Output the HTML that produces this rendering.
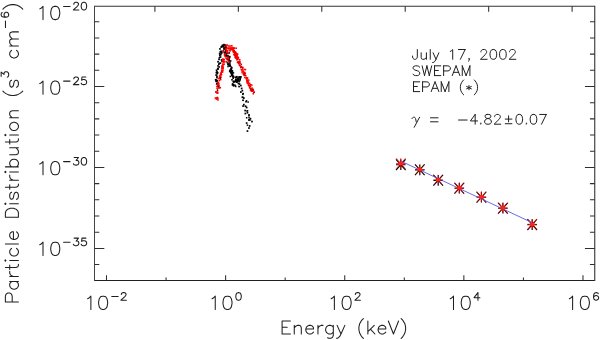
<!DOCTYPE html>
<html><head><meta charset="utf-8"><style>
html,body{margin:0;padding:0;background:#fff;}
svg{display:block;}
</style></head><body>
<svg width="600" height="340" viewBox="0 0 600 340">
<rect width="600" height="340" fill="#fff"/>
<path d="M94.5 6.25H594.75" stroke="#333" stroke-width="1.1" fill="none"/>
<path d="M94.5 280.55H594.75" stroke="#202020" stroke-width="1.1" fill="none"/>
<path d="M94.5 5.75V281.05" stroke="#444" stroke-width="1.0" fill="none"/>
<path d="M594.75 5.75V281.05" stroke="#333" stroke-width="1.1" fill="none"/>
<path d="M106.50 280.55v-5.4 M166.06 280.55v-3.1 M225.62 280.55v-5.4 M285.18 280.55v-3.1 M344.74 280.55v-5.4 M404.30 280.55v-3.1 M463.86 280.55v-5.4 M523.42 280.55v-3.1 M582.98 280.55v-5.4 M154.90 6.25v5.4 M238.34 6.25v5.4 M321.78 6.25v5.4 M405.22 6.25v5.4 M488.66 6.25v5.4 M572.10 6.25v5.4 M94.5 21.74h4.8 M594.75 21.74h-4.8 M94.5 37.93h4.8 M594.75 37.93h-4.8 M94.5 54.12h4.8 M594.75 54.12h-4.8 M94.5 70.31h4.8 M594.75 70.31h-4.8 M94.5 86.50h9.8 M594.75 86.50h-9.8 M94.5 102.69h4.8 M594.75 102.69h-4.8 M94.5 118.88h4.8 M594.75 118.88h-4.8 M94.5 135.07h4.8 M594.75 135.07h-4.8 M94.5 151.26h4.8 M594.75 151.26h-4.8 M94.5 167.45h9.8 M594.75 167.45h-9.8 M94.5 183.64h4.8 M594.75 183.64h-4.8 M94.5 199.83h4.8 M594.75 199.83h-4.8 M94.5 216.02h4.8 M594.75 216.02h-4.8 M94.5 232.21h4.8 M594.75 232.21h-4.8 M94.5 248.40h9.8 M594.75 248.40h-9.8 M94.5 264.59h4.8 M594.75 264.59h-4.8" stroke="#2e2e2e" stroke-width="1.05" fill="none"/>
<path d="M39.77 8.89L41.06 8.26L43.00 6.37L43.00 19.60M54.61 6.37L52.67 7.00L51.39 8.89L50.74 12.04L50.74 13.93L51.39 17.08L52.67 18.97L54.61 19.60L55.90 19.60L57.84 18.97L59.12 17.08L59.77 13.93L59.77 12.04L59.12 8.89L57.84 7.00L55.90 6.37L54.61 6.37M63.58 6.41L70.03 6.41M73.79 4.14L73.79 3.78L74.18 3.06L74.57 2.70L75.35 2.34L76.91 2.34L77.69 2.70L78.08 3.06L78.47 3.78L78.47 4.50L78.08 5.22L77.30 6.30L73.40 9.90L78.86 9.90M83.54 2.34L82.37 2.70L81.59 3.78L81.20 5.58L81.20 6.66L81.59 8.46L82.37 9.54L83.54 9.90L84.32 9.90L85.49 9.54L86.27 8.46L86.66 6.66L86.66 5.58L86.27 3.78L85.49 2.70L84.32 2.34L83.54 2.34M39.77 83.59L41.06 82.96L43.00 81.07L43.00 94.30M54.61 81.07L52.67 81.70L51.39 83.59L50.74 86.74L50.74 88.63L51.39 91.78L52.67 93.67L54.61 94.30L55.90 94.30L57.84 93.67L59.12 91.78L59.77 88.63L59.77 86.74L59.12 83.59L57.84 81.70L55.90 81.07L54.61 81.07M63.58 81.11L70.03 81.11M73.79 78.84L73.79 78.48L74.18 77.76L74.57 77.40L75.35 77.04L76.91 77.04L77.69 77.40L78.08 77.76L78.47 78.48L78.47 79.20L78.08 79.92L77.30 81.00L73.40 84.60L78.86 84.60M85.88 77.04L81.98 77.04L81.59 80.28L81.98 79.92L83.15 79.56L84.32 79.56L85.49 79.92L86.27 80.64L86.66 81.72L86.66 82.44L86.27 83.52L85.49 84.24L84.32 84.60L83.15 84.60L81.98 84.24L81.59 83.88L81.20 83.16M39.77 164.09L41.06 163.46L43.00 161.57L43.00 174.80M54.61 161.57L52.67 162.20L51.39 164.09L50.74 167.24L50.74 169.13L51.39 172.28L52.67 174.17L54.61 174.80L55.90 174.80L57.84 174.17L59.12 172.28L59.77 169.13L59.77 167.24L59.12 164.09L57.84 162.20L55.90 161.57L54.61 161.57M63.58 161.61L70.03 161.61M74.18 157.54L78.47 157.54L76.13 160.42L77.30 160.42L78.08 160.78L78.47 161.14L78.86 162.22L78.86 162.94L78.47 164.02L77.69 164.74L76.52 165.10L75.35 165.10L74.18 164.74L73.79 164.38L73.40 163.66M83.54 157.54L82.37 157.90L81.59 158.98L81.20 160.78L81.20 161.86L81.59 163.66L82.37 164.74L83.54 165.10L84.32 165.10L85.49 164.74L86.27 163.66L86.66 161.86L86.66 160.78L86.27 158.98L85.49 157.90L84.32 157.54L83.54 157.54M39.77 244.69L41.06 244.06L43.00 242.17L43.00 255.40M54.61 242.17L52.67 242.80L51.39 244.69L50.74 247.84L50.74 249.73L51.39 252.88L52.67 254.77L54.61 255.40L55.90 255.40L57.84 254.77L59.12 252.88L59.77 249.73L59.77 247.84L59.12 244.69L57.84 242.80L55.90 242.17L54.61 242.17M63.58 242.21L70.03 242.21M74.18 238.14L78.47 238.14L76.13 241.02L77.30 241.02L78.08 241.38L78.47 241.74L78.86 242.82L78.86 243.54L78.47 244.62L77.69 245.34L76.52 245.70L75.35 245.70L74.18 245.34L73.79 244.98L73.40 244.26M85.88 238.14L81.98 238.14L81.59 241.38L81.98 241.02L83.15 240.66L84.32 240.66L85.49 241.02L86.27 241.74L86.66 242.82L86.66 243.54L86.27 244.62L85.49 245.34L84.32 245.70L83.15 245.70L81.98 245.34L81.59 244.98L81.20 244.26M87.65 298.69L88.94 298.06L90.88 296.17L90.88 309.40M102.48 296.17L100.55 296.80L99.26 298.69L98.62 301.84L98.62 303.73L99.26 306.88L100.55 308.77L102.48 309.40L103.78 309.40L105.71 308.77L107.00 306.88L107.65 303.73L107.65 301.84L107.00 298.69L105.71 296.80L103.78 296.17L102.48 296.17M111.73 296.46L118.18 296.46M121.34 294.44L121.34 294.08L121.73 293.36L122.12 293.00L122.90 292.64L124.46 292.64L125.24 293.00L125.63 293.36L126.02 294.08L126.02 294.80L125.63 295.52L124.85 296.60L120.95 300.20L126.41 300.20M212.02 298.69L213.31 298.06L215.25 296.17L215.25 309.40M226.86 296.17L224.92 296.80L223.63 298.69L222.99 301.84L222.99 303.73L223.63 306.88L224.92 308.77L226.86 309.40L228.15 309.40L230.08 308.77L231.37 306.88L232.02 303.73L232.02 301.84L231.37 298.69L230.08 296.80L228.15 296.17L226.86 296.17M238.16 292.64L236.99 293.00L236.21 294.08L235.82 295.88L235.82 296.96L236.21 298.76L236.99 299.84L238.16 300.20L238.94 300.20L240.11 299.84L240.89 298.76L241.28 296.96L241.28 295.88L240.89 294.08L240.11 293.00L238.94 292.64L238.16 292.64M331.14 298.69L332.43 298.06L334.37 296.17L334.37 309.40M345.97 296.17L344.04 296.80L342.75 298.69L342.10 301.84L342.10 303.73L342.75 306.88L344.04 308.77L345.97 309.40L347.26 309.40L349.20 308.77L350.49 306.88L351.13 303.73L351.13 301.84L350.49 298.69L349.20 296.80L347.26 296.17L345.97 296.17M355.33 294.44L355.33 294.08L355.72 293.36L356.11 293.00L356.89 292.64L358.45 292.64L359.23 293.00L359.62 293.36L360.01 294.08L360.01 294.80L359.62 295.52L358.84 296.60L354.94 300.20L360.40 300.20M450.26 298.69L451.55 298.06L453.49 296.17L453.49 309.40M465.09 296.17L463.16 296.80L461.87 298.69L461.22 301.84L461.22 303.73L461.87 306.88L463.16 308.77L465.09 309.40L466.38 309.40L468.32 308.77L469.61 306.88L470.25 303.73L470.25 301.84L469.61 298.69L468.32 296.80L466.38 296.17L465.09 296.17M477.96 292.64L474.06 297.68L479.91 297.68M477.96 292.64L477.96 300.20M569.38 298.69L570.67 298.06L572.61 296.17L572.61 309.40M584.22 296.17L582.28 296.80L580.99 298.69L580.35 301.84L580.35 303.73L580.99 306.88L582.28 308.77L584.22 309.40L585.50 309.40L587.44 308.77L588.73 306.88L589.38 303.73L589.38 301.84L588.73 298.69L587.44 296.80L585.50 296.17L584.22 296.17M598.25 293.72L597.86 293.00L596.69 292.64L595.91 292.64L594.74 293.00L593.96 294.08L593.57 295.88L593.57 297.68L593.96 299.12L594.74 299.84L595.91 300.20L596.30 300.20L597.47 299.84L598.25 299.12L598.64 298.04L598.64 297.68L598.25 296.60L597.47 295.88L596.30 295.52L595.91 295.52L594.74 295.88L593.96 296.60L593.57 297.68M282.10 321.02L282.10 334.00M282.10 321.02L290.42 321.02M282.10 327.20L287.22 327.20M282.10 334.00L290.42 334.00M294.26 325.35L294.26 334.00M294.26 327.82L296.18 325.97L297.46 325.35L299.38 325.35L300.66 325.97L301.30 327.82L301.30 334.00M305.78 329.06L313.46 329.06L313.46 327.82L312.82 326.58L312.18 325.97L310.90 325.35L308.98 325.35L307.70 325.97L306.42 327.20L305.78 329.06L305.78 330.29L306.42 332.15L307.70 333.38L308.98 334.00L310.90 334.00L312.18 333.38L313.46 332.15M317.94 325.35L317.94 334.00M317.94 329.06L318.58 327.20L319.86 325.97L321.14 325.35L323.06 325.35M333.30 325.35L333.30 335.24L332.66 337.09L332.02 337.71L330.74 338.33L328.82 338.33L327.54 337.71M333.30 327.20L332.02 325.97L330.74 325.35L328.82 325.35L327.54 325.97L326.26 327.20L325.62 329.06L325.62 330.29L326.26 332.15L327.54 333.38L328.82 334.00L330.74 334.00L332.02 333.38L333.30 332.15M337.14 325.35L340.98 334.00M344.82 325.35L340.98 334.00L339.70 336.47L338.42 337.71L337.14 338.33L336.50 338.33M363.38 318.55L362.10 319.79L360.82 321.64L359.54 324.11L358.90 327.20L358.90 329.67L359.54 332.76L360.82 335.24L362.10 337.09L363.38 338.33M367.86 321.02L367.86 334.00M374.26 325.35L367.86 331.53M370.42 329.06L374.90 334.00M378.10 329.06L385.78 329.06L385.78 327.82L385.14 326.58L384.50 325.97L383.22 325.35L381.30 325.35L380.02 325.97L378.74 327.20L378.10 329.06L378.10 330.29L378.74 332.15L380.02 333.38L381.30 334.00L383.22 334.00L384.50 333.38L385.78 332.15M388.34 321.02L393.46 334.00M398.58 321.02L393.46 334.00M401.14 318.55L402.42 319.79L403.70 321.64L404.98 324.11L405.62 327.20L405.62 329.67L404.98 332.76L403.70 335.24L402.42 337.09L401.14 338.33" fill="none" stroke="#1e1e1e" stroke-width="1.05" stroke-linecap="round" stroke-linejoin="round" />
<g transform="rotate(-90)"><path d="M-301.90 5.38L-301.90 18.40M-301.90 5.38L-296.17 5.38L-294.26 6.00L-293.62 6.62L-292.98 7.86L-292.98 9.72L-293.62 10.96L-294.26 11.58L-296.17 12.20L-301.90 12.20M-281.52 9.72L-281.52 18.40M-281.52 11.58L-282.79 10.34L-284.06 9.72L-285.97 9.72L-287.25 10.34L-288.52 11.58L-289.16 13.44L-289.16 14.68L-288.52 16.54L-287.25 17.78L-285.97 18.40L-284.06 18.40L-282.79 17.78L-281.52 16.54M-276.42 9.72L-276.42 18.40M-276.42 13.44L-275.78 11.58L-274.51 10.34L-273.23 9.72L-271.32 9.72M-267.50 5.38L-267.50 15.92L-266.87 17.78L-265.59 18.40L-264.32 18.40M-269.41 9.72L-264.95 9.72M-261.13 5.38L-260.50 6.00L-259.86 5.38L-260.50 4.76L-261.13 5.38M-260.50 9.72L-260.50 18.40M-248.39 11.58L-249.67 10.34L-250.94 9.72L-252.85 9.72L-254.12 10.34L-255.40 11.58L-256.04 13.44L-256.04 14.68L-255.40 16.54L-254.12 17.78L-252.85 18.40L-250.94 18.40L-249.67 17.78L-248.39 16.54M-243.93 5.38L-243.93 18.40M-239.47 13.44L-231.83 13.44L-231.83 12.20L-232.47 10.96L-233.10 10.34L-234.38 9.72L-236.29 9.72L-237.56 10.34L-238.84 11.58L-239.47 13.44L-239.47 14.68L-238.84 16.54L-237.56 17.78L-236.29 18.40L-234.38 18.40L-233.10 17.78L-231.83 16.54M-217.18 5.38L-217.18 18.40M-217.18 5.38L-212.72 5.38L-210.81 6.00L-209.53 7.24L-208.90 8.48L-208.26 10.34L-208.26 13.44L-208.90 15.30L-209.53 16.54L-210.81 17.78L-212.72 18.40L-217.18 18.40M-204.44 5.38L-203.80 6.00L-203.16 5.38L-203.80 4.76L-204.44 5.38M-203.80 9.72L-203.80 18.40M-192.34 11.58L-192.97 10.34L-194.88 9.72L-196.79 9.72L-198.71 10.34L-199.34 11.58L-198.71 12.82L-197.43 13.44L-194.25 14.06L-192.97 14.68L-192.34 15.92L-192.34 16.54L-192.97 17.78L-194.88 18.40L-196.79 18.40L-198.71 17.78L-199.34 16.54M-187.24 5.38L-187.24 15.92L-186.60 17.78L-185.33 18.40L-184.05 18.40M-189.15 9.72L-184.69 9.72M-180.23 9.72L-180.23 18.40M-180.23 13.44L-179.60 11.58L-178.32 10.34L-177.05 9.72L-175.14 9.72M-172.59 5.38L-171.95 6.00L-171.31 5.38L-171.95 4.76L-172.59 5.38M-171.95 9.72L-171.95 18.40M-166.86 5.38L-166.86 18.40M-166.86 11.58L-165.58 10.34L-164.31 9.72L-162.40 9.72L-161.12 10.34L-159.85 11.58L-159.21 13.44L-159.21 14.68L-159.85 16.54L-161.12 17.78L-162.40 18.40L-164.31 18.40L-165.58 17.78L-166.86 16.54M-154.75 9.72L-154.75 15.92L-154.12 17.78L-152.84 18.40L-150.93 18.40L-149.66 17.78L-147.75 15.92M-147.75 9.72L-147.75 18.40M-142.01 5.38L-142.01 15.92L-141.38 17.78L-140.10 18.40L-138.83 18.40M-143.92 9.72L-139.46 9.72M-135.64 5.38L-135.01 6.00L-134.37 5.38L-135.01 4.76L-135.64 5.38M-135.01 9.72L-135.01 18.40M-127.36 9.72L-128.64 10.34L-129.91 11.58L-130.55 13.44L-130.55 14.68L-129.91 16.54L-128.64 17.78L-127.36 18.40L-125.45 18.40L-124.18 17.78L-122.90 16.54L-122.27 14.68L-122.27 13.44L-122.90 11.58L-124.18 10.34L-125.45 9.72L-127.36 9.72M-117.81 9.72L-117.81 18.40M-117.81 12.20L-115.90 10.34L-114.62 9.72L-112.71 9.72L-111.44 10.34L-110.80 12.20L-110.80 18.40M-91.05 2.90L-92.33 4.14L-93.60 6.00L-94.87 8.48L-95.51 11.58L-95.51 14.06L-94.87 17.16L-93.60 19.64L-92.33 21.50L-91.05 22.74M-80.22 11.58L-80.86 10.34L-82.77 9.72L-84.68 9.72L-86.59 10.34L-87.23 11.58L-86.59 12.82L-85.32 13.44L-82.13 14.06L-80.86 14.68L-80.22 15.92L-80.22 16.54L-80.86 17.78L-82.77 18.40L-84.68 18.40L-86.59 17.78L-87.23 16.54M-76.36 1.14L-72.07 1.14L-74.41 4.02L-73.24 4.02L-72.46 4.38L-72.07 4.74L-71.68 5.82L-71.68 6.54L-72.07 7.62L-72.85 8.34L-74.02 8.70L-75.19 8.70L-76.36 8.34L-76.75 7.98L-77.14 7.26M-50.37 11.58L-51.64 10.34L-52.91 9.72L-54.82 9.72L-56.10 10.34L-57.37 11.58L-58.01 13.44L-58.01 14.68L-57.37 16.54L-56.10 17.78L-54.82 18.40L-52.91 18.40L-51.64 17.78L-50.37 16.54M-45.91 9.72L-45.91 18.40M-45.91 12.20L-44.00 10.34L-42.72 9.72L-40.81 9.72L-39.54 10.34L-38.90 12.20L-38.90 18.40M-38.90 12.20L-36.99 10.34L-35.71 9.72L-33.80 9.72L-32.53 10.34L-31.89 12.20L-31.89 18.40M-27.51 5.46L-21.05 5.46M-12.56 2.22L-12.95 1.50L-14.12 1.14L-14.90 1.14L-16.07 1.50L-16.85 2.58L-17.24 4.38L-17.24 6.18L-16.85 7.62L-16.07 8.34L-14.90 8.70L-14.51 8.70L-13.34 8.34L-12.56 7.62L-12.17 6.54L-12.17 6.18L-12.56 5.10L-13.34 4.38L-14.51 4.02L-14.90 4.02L-16.07 4.38L-16.85 5.10L-17.24 6.18M-9.09 2.90L-7.82 4.14L-6.55 6.00L-5.27 8.48L-4.63 11.58L-4.63 14.06L-5.27 17.16L-6.55 19.64L-7.82 21.50L-9.09 22.74" fill="none" stroke="#1e1e1e" stroke-width="1.05" stroke-linecap="round" stroke-linejoin="round" /></g>
<path d="M417.34 49.53L417.34 56.97L416.86 58.37L416.38 58.83L415.42 59.30L414.47 59.30L413.51 58.83L413.03 58.37L412.56 56.97L412.56 56.04M421.16 52.79L421.16 57.44L421.64 58.83L422.59 59.30L424.03 59.30L424.98 58.83L426.42 57.44M426.42 52.79L426.42 59.30M430.24 49.53L430.24 59.30M433.11 52.79L435.98 59.30M438.85 52.79L435.98 59.30L435.02 61.16L434.07 62.09L433.11 62.55L432.63 62.55M450.32 51.39L451.27 50.93L452.71 49.53L452.71 59.30M465.14 49.53L460.36 59.30M458.44 49.53L465.14 49.53M469.44 58.83L468.96 59.30L468.48 58.83L468.96 58.37L469.44 58.83L469.44 59.77L468.96 60.70L468.48 61.16M480.91 51.86L480.91 51.39L481.39 50.46L481.87 50.00L482.82 49.53L484.73 49.53L485.69 50.00L486.17 50.46L486.65 51.39L486.65 52.32L486.17 53.25L485.21 54.65L480.43 59.30L487.12 59.30M492.86 49.53L491.43 50.00L490.47 51.39L489.99 53.72L489.99 55.11L490.47 57.44L491.43 58.83L492.86 59.30L493.82 59.30L495.25 58.83L496.21 57.44L496.68 55.11L496.68 53.72L496.21 51.39L495.25 50.00L493.82 49.53L492.86 49.53M502.42 49.53L500.99 50.00L500.03 51.39L499.55 53.72L499.55 55.11L500.03 57.44L500.99 58.83L502.42 59.30L503.38 59.30L504.81 58.83L505.77 57.44L506.24 55.11L506.24 53.72L505.77 51.39L504.81 50.00L503.38 49.53L502.42 49.53M509.59 51.86L509.59 51.39L510.07 50.46L510.55 50.00L511.50 49.53L513.41 49.53L514.37 50.00L514.85 50.46L515.33 51.39L515.33 52.32L514.85 53.25L513.89 54.65L509.11 59.30L515.80 59.30M419.73 67.23L418.77 66.30L417.34 65.83L415.42 65.83L413.99 66.30L413.03 67.23L413.03 68.16L413.51 69.09L413.99 69.55L414.95 70.02L417.81 70.95L418.77 71.41L419.25 71.88L419.73 72.81L419.73 74.20L418.77 75.13L417.34 75.60L415.42 75.60L413.99 75.13L413.03 74.20M422.12 65.83L424.51 75.60M426.90 65.83L424.51 75.60M426.90 65.83L429.29 75.60M431.68 65.83L429.29 75.60M434.54 65.83L434.54 75.60M434.54 65.83L440.76 65.83M434.54 70.48L438.37 70.48M434.54 75.60L440.76 75.60M443.63 65.83L443.63 75.60M443.63 65.83L447.93 65.83L449.36 66.30L449.84 66.76L450.32 67.69L450.32 69.09L449.84 70.02L449.36 70.48L447.93 70.95L443.63 70.95M456.05 65.83L452.23 75.60M456.05 65.83L459.88 75.60M453.66 72.34L458.44 72.34M462.27 65.83L462.27 75.60M462.27 65.83L466.09 75.60M469.92 65.83L466.09 75.60M469.92 65.83L469.92 75.60M413.51 81.83L413.51 91.60M413.51 81.83L419.73 81.83M413.51 86.48L417.34 86.48M413.51 91.60L419.73 91.60M422.59 81.83L422.59 91.60M422.59 81.83L426.90 81.83L428.33 82.30L428.81 82.76L429.29 83.69L429.29 85.09L428.81 86.02L428.33 86.48L426.90 86.95L422.59 86.95M435.02 81.83L431.20 91.60M435.02 81.83L438.85 91.60M432.63 88.34L437.41 88.34M441.24 81.83L441.24 91.60M441.24 81.83L445.06 91.60M448.88 81.83L445.06 91.60M448.88 81.83L448.88 91.60M463.70 79.97L462.75 80.91L461.79 82.30L460.83 84.16L460.36 86.48L460.36 88.34L460.83 90.67L461.79 92.53L462.75 93.92L463.70 94.85M468.96 85.55L468.96 89.74M466.57 86.48L471.35 88.81M471.35 86.48L466.57 88.81M474.22 79.97L475.17 80.91L476.13 82.30L477.09 84.16L477.56 86.48L477.56 88.34L477.09 90.67L476.13 92.53L475.17 93.92L474.22 94.85M458.58 120.02L467.12 120.02M475.17 114.44L470.43 120.95L477.54 120.95M475.17 114.44L475.17 124.20M480.86 123.27L480.39 123.73L480.86 124.20L481.34 123.73L480.86 123.27M487.02 114.44L485.60 114.90L485.13 115.83L485.13 116.76L485.60 117.69L486.55 118.16L488.45 118.62L489.87 119.09L490.82 120.02L491.29 120.95L491.29 122.34L490.82 123.27L490.34 123.73L488.92 124.20L487.02 124.20L485.60 123.73L485.13 123.27L484.65 122.34L484.65 120.95L485.13 120.02L486.08 119.09L487.50 118.62L489.39 118.16L490.34 117.69L490.82 116.76L490.82 115.83L490.34 114.90L488.92 114.44L487.02 114.44M494.61 116.76L494.61 116.30L495.08 115.37L495.56 114.90L496.50 114.44L498.40 114.44L499.35 114.90L499.82 115.37L500.30 116.30L500.30 117.23L499.82 118.16L498.87 119.55L494.13 124.20L500.77 124.20M508.59 115.83L508.59 121.88M505.27 119.09L511.91 119.09M505.27 123.73L511.91 123.73M518.78 114.44L517.36 114.90L516.41 116.30L515.94 118.62L515.94 120.02L516.41 122.34L517.36 123.73L518.78 124.20L519.73 124.20L521.15 123.73L522.10 122.34L522.57 120.02L522.57 118.62L522.10 116.30L521.15 114.90L519.73 114.44L518.78 114.44M526.37 123.27L525.89 123.73L526.37 124.20L526.84 123.73L526.37 123.27M533.00 114.44L531.58 114.90L530.63 116.30L530.16 118.62L530.16 120.02L530.63 122.34L531.58 123.73L533.00 124.20L533.95 124.20L535.37 123.73L536.32 122.34L536.79 120.02L536.79 118.62L536.32 116.30L535.37 114.90L533.95 114.44L533.00 114.44M546.27 114.44L541.53 124.20M539.64 114.44L546.27 114.44M430.5 117.8L438 117.8M430.5 121.8L438 121.8M412.0 118.6C412.6 116.9 414.9 116.5 415.6 118.6L416.2 121.8M419.6 117.2L414.2 127.3" fill="none" stroke="#1e1e1e" stroke-width="1.0" stroke-linecap="round" stroke-linejoin="round" />
<rect x="223.1" y="43.8" width="1.7" height="1.7" fill="#000000"/>
<rect x="221.1" y="45.6" width="1.7" height="1.7" fill="#000000"/>
<rect x="220.3" y="46.2" width="1.7" height="1.7" fill="#000000"/>
<rect x="219.1" y="48.1" width="1.7" height="1.7" fill="#000000"/>
<rect x="220.2" y="50.4" width="1.7" height="1.7" fill="#000000"/>
<rect x="220.8" y="52.2" width="1.7" height="1.7" fill="#000000"/>
<rect x="219.0" y="54.8" width="1.7" height="1.7" fill="#000000"/>
<rect x="219.7" y="56.2" width="1.7" height="1.7" fill="#000000"/>
<rect x="218.2" y="58.5" width="1.7" height="1.7" fill="#000000"/>
<rect x="217.2" y="60.9" width="1.7" height="1.7" fill="#000000"/>
<rect x="218.0" y="63.4" width="1.7" height="1.7" fill="#000000"/>
<rect x="218.2" y="66.1" width="1.7" height="1.7" fill="#000000"/>
<rect x="217.0" y="68.2" width="1.7" height="1.7" fill="#000000"/>
<rect x="216.2" y="70.9" width="1.7" height="1.7" fill="#000000"/>
<rect x="215.3" y="74.2" width="1.7" height="1.7" fill="#000000"/>
<rect x="216.1" y="76.7" width="1.7" height="1.7" fill="#000000"/>
<rect x="214.8" y="78.9" width="1.7" height="1.7" fill="#000000"/>
<rect x="216.1" y="80.7" width="1.7" height="1.7" fill="#000000"/>
<rect x="216.6" y="82.6" width="1.7" height="1.7" fill="#000000"/>
<rect x="217.2" y="84.8" width="1.7" height="1.7" fill="#000000"/>
<rect x="226.7" y="62.1" width="1.6" height="1.6" fill="#000000"/>
<rect x="227.6" y="63.3" width="1.6" height="1.6" fill="#000000"/>
<rect x="223.7" y="52.1" width="1.6" height="1.6" fill="#000000"/>
<rect x="232.4" y="77.4" width="1.6" height="1.6" fill="#000000"/>
<rect x="224.1" y="47.3" width="1.6" height="1.6" fill="#000000"/>
<rect x="225.4" y="46.2" width="1.6" height="1.6" fill="#000000"/>
<rect x="230.2" y="70.9" width="1.6" height="1.6" fill="#000000"/>
<rect x="222.5" y="45.3" width="1.6" height="1.6" fill="#000000"/>
<rect x="225.1" y="52.6" width="1.6" height="1.6" fill="#000000"/>
<rect x="227.2" y="63.8" width="1.6" height="1.6" fill="#000000"/>
<rect x="228.8" y="64.8" width="1.6" height="1.6" fill="#000000"/>
<rect x="230.0" y="71.7" width="1.6" height="1.6" fill="#000000"/>
<rect x="234.9" y="85.6" width="1.6" height="1.6" fill="#000000"/>
<rect x="230.9" y="73.9" width="1.6" height="1.6" fill="#000000"/>
<rect x="228.5" y="56.7" width="1.6" height="1.6" fill="#000000"/>
<rect x="228.7" y="60.0" width="1.6" height="1.6" fill="#000000"/>
<rect x="232.9" y="83.9" width="1.6" height="1.6" fill="#000000"/>
<rect x="226.3" y="52.7" width="1.6" height="1.6" fill="#000000"/>
<rect x="232.8" y="85.1" width="1.6" height="1.6" fill="#000000"/>
<rect x="230.4" y="69.5" width="1.6" height="1.6" fill="#000000"/>
<rect x="222.5" y="50.1" width="1.6" height="1.6" fill="#000000"/>
<rect x="232.0" y="75.9" width="1.6" height="1.6" fill="#000000"/>
<rect x="225.2" y="49.4" width="1.6" height="1.6" fill="#000000"/>
<rect x="223.9" y="51.6" width="1.6" height="1.6" fill="#000000"/>
<rect x="225.0" y="52.0" width="1.6" height="1.6" fill="#000000"/>
<rect x="231.2" y="71.3" width="1.6" height="1.6" fill="#000000"/>
<rect x="225.2" y="55.4" width="1.6" height="1.6" fill="#000000"/>
<rect x="231.2" y="79.0" width="1.6" height="1.6" fill="#000000"/>
<rect x="224.1" y="54.2" width="1.6" height="1.6" fill="#000000"/>
<rect x="232.6" y="72.1" width="1.6" height="1.6" fill="#000000"/>
<rect x="225.4" y="54.7" width="1.6" height="1.6" fill="#000000"/>
<rect x="227.8" y="57.9" width="1.6" height="1.6" fill="#000000"/>
<rect x="223.1" y="48.1" width="1.6" height="1.6" fill="#000000"/>
<rect x="229.4" y="69.6" width="1.6" height="1.6" fill="#000000"/>
<rect x="231.7" y="84.1" width="1.6" height="1.6" fill="#000000"/>
<rect x="232.5" y="80.5" width="1.6" height="1.6" fill="#000000"/>
<rect x="232.8" y="81.3" width="1.6" height="1.6" fill="#000000"/>
<rect x="224.9" y="50.5" width="1.6" height="1.6" fill="#000000"/>
<rect x="227.0" y="52.2" width="1.6" height="1.6" fill="#000000"/>
<rect x="229.7" y="69.2" width="1.6" height="1.6" fill="#000000"/>
<rect x="223.7" y="46.2" width="1.6" height="1.6" fill="#000000"/>
<rect x="231.0" y="74.8" width="1.6" height="1.6" fill="#000000"/>
<rect x="229.9" y="69.3" width="1.6" height="1.6" fill="#000000"/>
<rect x="231.8" y="74.2" width="1.6" height="1.6" fill="#000000"/>
<rect x="230.5" y="66.3" width="1.6" height="1.6" fill="#000000"/>
<rect x="227.4" y="55.6" width="1.6" height="1.6" fill="#000000"/>
<rect x="222.8" y="46.2" width="1.6" height="1.6" fill="#000000"/>
<rect x="223.7" y="47.9" width="1.6" height="1.6" fill="#000000"/>
<rect x="230.4" y="68.3" width="1.6" height="1.6" fill="#000000"/>
<rect x="233.7" y="81.0" width="1.6" height="1.6" fill="#000000"/>
<rect x="230.5" y="72.5" width="1.6" height="1.6" fill="#000000"/>
<rect x="225.0" y="46.4" width="1.6" height="1.6" fill="#000000"/>
<rect x="231.2" y="73.1" width="1.6" height="1.6" fill="#000000"/>
<rect x="228.9" y="70.6" width="1.6" height="1.6" fill="#000000"/>
<rect x="228.1" y="57.2" width="1.6" height="1.6" fill="#000000"/>
<rect x="229.5" y="64.9" width="1.6" height="1.6" fill="#000000"/>
<rect x="230.9" y="73.3" width="1.6" height="1.6" fill="#000000"/>
<rect x="231.8" y="83.1" width="1.6" height="1.6" fill="#000000"/>
<rect x="233.1" y="80.9" width="1.6" height="1.6" fill="#000000"/>
<rect x="232.5" y="76.1" width="1.6" height="1.6" fill="#000000"/>
<rect x="229.4" y="70.7" width="1.6" height="1.6" fill="#000000"/>
<rect x="231.3" y="69.8" width="1.6" height="1.6" fill="#000000"/>
<rect x="234.2" y="84.5" width="1.6" height="1.6" fill="#000000"/>
<rect x="228.1" y="59.1" width="1.6" height="1.6" fill="#000000"/>
<rect x="228.7" y="62.0" width="1.6" height="1.6" fill="#000000"/>
<rect x="232.6" y="75.4" width="1.6" height="1.6" fill="#000000"/>
<rect x="229.2" y="65.2" width="1.6" height="1.6" fill="#000000"/>
<rect x="227.7" y="63.4" width="1.6" height="1.6" fill="#000000"/>
<rect x="227.1" y="55.0" width="1.6" height="1.6" fill="#000000"/>
<rect x="231.0" y="72.6" width="1.6" height="1.6" fill="#000000"/>
<rect x="215.3" y="79.2" width="1.6" height="1.6" fill="#000000"/>
<rect x="215.2" y="80.5" width="1.6" height="1.6" fill="#000000"/>
<rect x="218.8" y="52.8" width="1.6" height="1.6" fill="#000000"/>
<rect x="216.4" y="79.8" width="1.6" height="1.6" fill="#000000"/>
<rect x="216.9" y="67.6" width="1.6" height="1.6" fill="#000000"/>
<rect x="218.6" y="62.5" width="1.6" height="1.6" fill="#000000"/>
<rect x="216.8" y="72.0" width="1.6" height="1.6" fill="#000000"/>
<rect x="219.4" y="51.2" width="1.6" height="1.6" fill="#000000"/>
<rect x="219.2" y="53.3" width="1.6" height="1.6" fill="#000000"/>
<rect x="217.2" y="65.1" width="1.6" height="1.6" fill="#000000"/>
<rect x="215.9" y="83.1" width="1.6" height="1.6" fill="#000000"/>
<rect x="221.3" y="45.7" width="1.6" height="1.6" fill="#000000"/>
<rect x="215.5" y="71.8" width="1.6" height="1.6" fill="#000000"/>
<rect x="216.2" y="75.5" width="1.6" height="1.6" fill="#000000"/>
<rect x="219.6" y="62.4" width="1.6" height="1.6" fill="#000000"/>
<rect x="220.1" y="53.9" width="1.6" height="1.6" fill="#000000"/>
<rect x="215.7" y="69.4" width="1.6" height="1.6" fill="#000000"/>
<rect x="217.2" y="68.1" width="1.6" height="1.6" fill="#000000"/>
<rect x="216.6" y="72.0" width="1.6" height="1.6" fill="#000000"/>
<rect x="220.9" y="51.4" width="1.6" height="1.6" fill="#000000"/>
<rect x="216.4" y="72.9" width="1.6" height="1.6" fill="#000000"/>
<rect x="218.6" y="57.0" width="1.6" height="1.6" fill="#000000"/>
<rect x="221.7" y="44.4" width="1.7" height="1.7" fill="#000000"/>
<rect x="223.5" y="45.2" width="1.7" height="1.7" fill="#000000"/>
<rect x="224.2" y="44.2" width="1.7" height="1.7" fill="#000000"/>
<rect x="224.7" y="50.4" width="1.7" height="1.7" fill="#000000"/>
<rect x="225.2" y="53.2" width="1.7" height="1.7" fill="#000000"/>
<rect x="228.6" y="56.6" width="1.7" height="1.7" fill="#000000"/>
<rect x="229.7" y="60.1" width="1.7" height="1.7" fill="#000000"/>
<rect x="220.7" y="59.1" width="1.7" height="1.7" fill="#000000"/>
<rect x="221.2" y="60.6" width="1.7" height="1.7" fill="#000000"/>
<rect x="229.5" y="64.3" width="1.5" height="1.5" fill="#000000"/>
<rect x="230.9" y="70.4" width="1.5" height="1.5" fill="#000000"/>
<rect x="231.2" y="74.2" width="1.5" height="1.5" fill="#000000"/>
<rect x="226.6" y="59.0" width="1.5" height="1.5" fill="#000000"/>
<rect x="225.5" y="57.5" width="1.5" height="1.5" fill="#000000"/>
<rect x="231.8" y="70.4" width="1.5" height="1.5" fill="#000000"/>
<rect x="230.2" y="68.0" width="1.5" height="1.5" fill="#000000"/>
<rect x="229.5" y="70.1" width="1.5" height="1.5" fill="#000000"/>
<rect x="228.6" y="52.2" width="1.5" height="1.5" fill="#000000"/>
<rect x="229.6" y="75.7" width="1.5" height="1.5" fill="#000000"/>
<rect x="229.1" y="55.8" width="1.5" height="1.5" fill="#000000"/>
<rect x="228.5" y="58.1" width="1.5" height="1.5" fill="#000000"/>
<rect x="229.2" y="62.3" width="1.5" height="1.5" fill="#000000"/>
<rect x="224.2" y="48.2" width="1.5" height="1.5" fill="#000000"/>
<rect x="231.1" y="71.6" width="1.5" height="1.5" fill="#000000"/>
<rect x="230.9" y="70.9" width="1.5" height="1.5" fill="#000000"/>
<rect x="228.5" y="60.6" width="1.5" height="1.5" fill="#000000"/>
<rect x="231.2" y="67.2" width="1.5" height="1.5" fill="#000000"/>
<rect x="232.2" y="75.6" width="1.5" height="1.5" fill="#000000"/>
<rect x="228.4" y="64.3" width="1.5" height="1.5" fill="#000000"/>
<rect x="227.3" y="65.8" width="1.5" height="1.5" fill="#000000"/>
<rect x="228.7" y="64.6" width="1.5" height="1.5" fill="#000000"/>
<rect x="248.4" y="118.9" width="1.5" height="1.5" fill="#000000"/>
<rect x="249.3" y="119.3" width="1.5" height="1.5" fill="#000000"/>
<rect x="246.3" y="110.3" width="1.5" height="1.5" fill="#000000"/>
<rect x="245.0" y="105.5" width="1.5" height="1.5" fill="#000000"/>
<rect x="246.7" y="124.4" width="1.5" height="1.5" fill="#000000"/>
<rect x="245.9" y="117.0" width="1.5" height="1.5" fill="#000000"/>
<rect x="248.3" y="114.0" width="1.5" height="1.5" fill="#000000"/>
<rect x="247.4" y="101.3" width="1.5" height="1.5" fill="#000000"/>
<rect x="242.2" y="96.6" width="1.5" height="1.5" fill="#000000"/>
<rect x="245.8" y="100.1" width="1.5" height="1.5" fill="#000000"/>
<rect x="244.6" y="105.6" width="1.5" height="1.5" fill="#000000"/>
<rect x="246.8" y="110.0" width="1.5" height="1.5" fill="#000000"/>
<rect x="248.3" y="116.9" width="1.5" height="1.5" fill="#000000"/>
<rect x="242.1" y="93.6" width="1.5" height="1.5" fill="#000000"/>
<rect x="236.4" y="79.0" width="1.6" height="1.6" fill="#000000"/>
<rect x="234.9" y="79.7" width="1.6" height="1.6" fill="#000000"/>
<rect x="235.0" y="78.4" width="1.6" height="1.6" fill="#000000"/>
<rect x="235.8" y="76.5" width="1.6" height="1.6" fill="#000000"/>
<rect x="237.5" y="77.9" width="1.6" height="1.6" fill="#000000"/>
<rect x="236.6" y="77.8" width="1.6" height="1.6" fill="#000000"/>
<rect x="237.5" y="76.3" width="1.6" height="1.6" fill="#000000"/>
<rect x="235.5" y="79.1" width="1.6" height="1.6" fill="#000000"/>
<rect x="238.1" y="78.5" width="1.6" height="1.6" fill="#000000"/>
<rect x="239.4" y="79.0" width="1.6" height="1.6" fill="#000000"/>
<rect x="239.4" y="76.7" width="1.6" height="1.6" fill="#000000"/>
<rect x="238.7" y="80.2" width="1.6" height="1.6" fill="#000000"/>
<rect x="239.7" y="77.2" width="1.6" height="1.6" fill="#000000"/>
<rect x="236.2" y="80.8" width="1.6" height="1.6" fill="#000000"/>
<rect x="235.6" y="81.3" width="1.6" height="1.6" fill="#000000"/>
<rect x="239.6" y="76.1" width="1.6" height="1.6" fill="#000000"/>
<rect x="235.7" y="79.7" width="1.6" height="1.6" fill="#000000"/>
<rect x="235.9" y="75.9" width="1.6" height="1.6" fill="#000000"/>
<rect x="239.3" y="77.8" width="1.6" height="1.6" fill="#000000"/>
<rect x="239.0" y="76.1" width="1.6" height="1.6" fill="#000000"/>
<rect x="236.7" y="79.4" width="1.6" height="1.6" fill="#000000"/>
<rect x="234.4" y="76.5" width="1.6" height="1.6" fill="#000000"/>
<rect x="238.4" y="80.8" width="1.6" height="1.6" fill="#000000"/>
<rect x="240.1" y="76.0" width="1.6" height="1.6" fill="#000000"/>
<rect x="237.3" y="79.8" width="1.6" height="1.6" fill="#000000"/>
<rect x="237.3" y="79.4" width="1.6" height="1.6" fill="#000000"/>
<rect x="235.0" y="79.9" width="1.6" height="1.6" fill="#000000"/>
<rect x="234.6" y="79.8" width="1.6" height="1.6" fill="#000000"/>
<rect x="236.4" y="81.2" width="1.6" height="1.6" fill="#000000"/>
<rect x="236.5" y="80.1" width="1.6" height="1.6" fill="#000000"/>
<rect x="234.9" y="80.3" width="1.6" height="1.6" fill="#000000"/>
<rect x="237.6" y="82.7" width="1.6" height="1.6" fill="#000000"/>
<rect x="232.3" y="83.9" width="1.7" height="1.7" fill="#000000"/>
<rect x="240.0" y="84.7" width="1.7" height="1.7" fill="#000000"/>
<rect x="240.8" y="87.6" width="1.7" height="1.7" fill="#000000"/>
<rect x="241.5" y="89.8" width="1.7" height="1.7" fill="#000000"/>
<rect x="240.0" y="91.2" width="1.7" height="1.7" fill="#000000"/>
<rect x="242.2" y="92.8" width="1.7" height="1.7" fill="#000000"/>
<rect x="241.5" y="96.4" width="1.7" height="1.7" fill="#000000"/>
<rect x="243.0" y="97.2" width="1.7" height="1.7" fill="#000000"/>
<rect x="242.2" y="99.4" width="1.7" height="1.7" fill="#000000"/>
<rect x="245.2" y="100.8" width="1.7" height="1.7" fill="#000000"/>
<rect x="243.0" y="103.8" width="1.7" height="1.7" fill="#000000"/>
<rect x="242.2" y="105.2" width="1.7" height="1.7" fill="#000000"/>
<rect x="245.8" y="106.7" width="1.7" height="1.7" fill="#000000"/>
<rect x="244.3" y="109.7" width="1.7" height="1.7" fill="#000000"/>
<rect x="246.6" y="111.9" width="1.7" height="1.7" fill="#000000"/>
<rect x="244.5" y="112.7" width="1.7" height="1.7" fill="#000000"/>
<rect x="248.1" y="114.8" width="1.7" height="1.7" fill="#000000"/>
<rect x="249.6" y="117.8" width="1.7" height="1.7" fill="#000000"/>
<rect x="248.1" y="119.2" width="1.7" height="1.7" fill="#000000"/>
<rect x="251.1" y="120.7" width="1.7" height="1.7" fill="#000000"/>
<rect x="245.8" y="122.2" width="1.7" height="1.7" fill="#000000"/>
<rect x="248.8" y="125.1" width="1.7" height="1.7" fill="#000000"/>
<rect x="248.1" y="127.2" width="1.7" height="1.7" fill="#000000"/>
<rect x="246.6" y="130.2" width="1.7" height="1.7" fill="#000000"/>
<rect x="238.7" y="83.2" width="1.7" height="1.7" fill="#000000"/>
<rect x="238.2" y="85.7" width="1.7" height="1.7" fill="#000000"/>
<rect x="229.3" y="50.3" width="1.5" height="1.5" fill="#ff0000"/>
<rect x="227.6" y="47.9" width="1.5" height="1.5" fill="#ff0000"/>
<rect x="230.0" y="47.6" width="1.5" height="1.5" fill="#ff0000"/>
<rect x="225.7" y="47.8" width="1.5" height="1.5" fill="#ff0000"/>
<rect x="232.9" y="47.4" width="1.5" height="1.5" fill="#ff0000"/>
<rect x="225.9" y="45.4" width="1.5" height="1.5" fill="#ff0000"/>
<rect x="231.5" y="47.4" width="1.5" height="1.5" fill="#ff0000"/>
<rect x="231.1" y="48.2" width="1.5" height="1.5" fill="#ff0000"/>
<rect x="226.7" y="51.5" width="1.5" height="1.5" fill="#ff0000"/>
<rect x="233.9" y="47.4" width="1.5" height="1.5" fill="#ff0000"/>
<rect x="233.2" y="47.4" width="1.5" height="1.5" fill="#ff0000"/>
<rect x="227.8" y="47.9" width="1.5" height="1.5" fill="#ff0000"/>
<rect x="231.6" y="49.2" width="1.5" height="1.5" fill="#ff0000"/>
<rect x="226.3" y="51.8" width="1.5" height="1.5" fill="#ff0000"/>
<rect x="231.9" y="46.8" width="1.5" height="1.5" fill="#ff0000"/>
<rect x="231.9" y="48.7" width="1.5" height="1.5" fill="#ff0000"/>
<rect x="230.2" y="47.2" width="1.5" height="1.5" fill="#ff0000"/>
<rect x="226.7" y="47.3" width="1.5" height="1.5" fill="#ff0000"/>
<rect x="224.0" y="45.7" width="1.5" height="1.5" fill="#ff0000"/>
<rect x="228.2" y="44.9" width="1.5" height="1.5" fill="#ff0000"/>
<rect x="226.6" y="51.5" width="1.5" height="1.5" fill="#ff0000"/>
<rect x="230.4" y="48.2" width="1.5" height="1.5" fill="#ff0000"/>
<rect x="225.4" y="47.9" width="1.5" height="1.5" fill="#ff0000"/>
<rect x="225.5" y="48.1" width="1.5" height="1.5" fill="#ff0000"/>
<rect x="235.5" y="47.5" width="1.5" height="1.5" fill="#ff0000"/>
<rect x="230.1" y="49.0" width="1.5" height="1.5" fill="#ff0000"/>
<rect x="228.1" y="46.4" width="1.5" height="1.5" fill="#ff0000"/>
<rect x="231.8" y="48.6" width="1.5" height="1.5" fill="#ff0000"/>
<rect x="227.0" y="49.9" width="1.5" height="1.5" fill="#ff0000"/>
<rect x="226.5" y="44.4" width="1.5" height="1.5" fill="#ff0000"/>
<rect x="225.4" y="50.2" width="1.5" height="1.5" fill="#ff0000"/>
<rect x="228.9" y="48.0" width="1.5" height="1.5" fill="#ff0000"/>
<rect x="232.7" y="47.9" width="1.5" height="1.5" fill="#ff0000"/>
<rect x="231.1" y="45.0" width="1.5" height="1.5" fill="#ff0000"/>
<rect x="231.4" y="47.8" width="1.5" height="1.5" fill="#ff0000"/>
<rect x="226.0" y="44.5" width="1.5" height="1.5" fill="#ff0000"/>
<rect x="230.2" y="45.1" width="1.5" height="1.5" fill="#ff0000"/>
<rect x="229.1" y="49.5" width="1.5" height="1.5" fill="#ff0000"/>
<rect x="229.2" y="46.2" width="1.5" height="1.5" fill="#ff0000"/>
<rect x="230.9" y="47.5" width="1.5" height="1.5" fill="#ff0000"/>
<rect x="227.7" y="56.6" width="1.5" height="1.5" fill="#ff0000"/>
<rect x="227.4" y="52.8" width="1.5" height="1.5" fill="#ff0000"/>
<rect x="223.0" y="61.4" width="1.5" height="1.5" fill="#ff0000"/>
<rect x="227.7" y="57.9" width="1.5" height="1.5" fill="#ff0000"/>
<rect x="224.8" y="53.3" width="1.5" height="1.5" fill="#ff0000"/>
<rect x="227.0" y="57.1" width="1.5" height="1.5" fill="#ff0000"/>
<rect x="226.4" y="58.0" width="1.5" height="1.5" fill="#ff0000"/>
<rect x="228.7" y="61.2" width="1.5" height="1.5" fill="#ff0000"/>
<rect x="222.5" y="50.5" width="1.5" height="1.5" fill="#ff0000"/>
<rect x="224.1" y="55.3" width="1.5" height="1.5" fill="#ff0000"/>
<rect x="226.0" y="50.7" width="1.5" height="1.5" fill="#ff0000"/>
<rect x="222.9" y="58.5" width="1.5" height="1.5" fill="#ff0000"/>
<rect x="226.1" y="58.0" width="1.5" height="1.5" fill="#ff0000"/>
<rect x="224.9" y="56.0" width="1.5" height="1.5" fill="#ff0000"/>
<rect x="223.7" y="54.2" width="1.5" height="1.5" fill="#ff0000"/>
<rect x="227.5" y="60.7" width="1.5" height="1.5" fill="#ff0000"/>
<rect x="222.8" y="51.3" width="1.5" height="1.5" fill="#ff0000"/>
<rect x="227.9" y="57.9" width="1.5" height="1.5" fill="#ff0000"/>
<rect x="234.9" y="52.8" width="1.5" height="1.5" fill="#ff0000"/>
<rect x="236.7" y="61.6" width="1.5" height="1.5" fill="#ff0000"/>
<rect x="234.2" y="56.3" width="1.5" height="1.5" fill="#ff0000"/>
<rect x="237.3" y="60.8" width="1.5" height="1.5" fill="#ff0000"/>
<rect x="235.0" y="54.2" width="1.5" height="1.5" fill="#ff0000"/>
<rect x="232.3" y="50.7" width="1.5" height="1.5" fill="#ff0000"/>
<rect x="236.0" y="55.6" width="1.5" height="1.5" fill="#ff0000"/>
<rect x="236.9" y="53.3" width="1.5" height="1.5" fill="#ff0000"/>
<rect x="237.2" y="58.1" width="1.5" height="1.5" fill="#ff0000"/>
<rect x="233.9" y="51.5" width="1.5" height="1.5" fill="#ff0000"/>
<rect x="234.5" y="51.2" width="1.5" height="1.5" fill="#ff0000"/>
<rect x="237.1" y="56.6" width="1.5" height="1.5" fill="#ff0000"/>
<rect x="238.6" y="61.0" width="1.5" height="1.5" fill="#ff0000"/>
<rect x="234.1" y="54.5" width="1.5" height="1.5" fill="#ff0000"/>
<rect x="238.8" y="60.5" width="1.5" height="1.5" fill="#ff0000"/>
<rect x="233.6" y="54.1" width="1.5" height="1.5" fill="#ff0000"/>
<rect x="234.5" y="54.1" width="1.5" height="1.5" fill="#ff0000"/>
<rect x="234.7" y="54.4" width="1.5" height="1.5" fill="#ff0000"/>
<rect x="235.0" y="56.9" width="1.5" height="1.5" fill="#ff0000"/>
<rect x="244.0" y="71.8" width="1.5" height="1.5" fill="#ff0000"/>
<rect x="236.3" y="55.3" width="1.5" height="1.5" fill="#ff0000"/>
<rect x="239.2" y="61.3" width="1.5" height="1.5" fill="#ff0000"/>
<rect x="241.4" y="72.0" width="1.5" height="1.5" fill="#ff0000"/>
<rect x="245.7" y="77.2" width="1.5" height="1.5" fill="#ff0000"/>
<rect x="243.6" y="72.5" width="1.5" height="1.5" fill="#ff0000"/>
<rect x="234.2" y="51.1" width="1.5" height="1.5" fill="#ff0000"/>
<rect x="234.1" y="52.2" width="1.5" height="1.5" fill="#ff0000"/>
<rect x="247.1" y="81.1" width="1.5" height="1.5" fill="#ff0000"/>
<rect x="237.1" y="57.8" width="1.5" height="1.5" fill="#ff0000"/>
<rect x="247.2" y="82.7" width="1.5" height="1.5" fill="#ff0000"/>
<rect x="251.7" y="90.5" width="1.5" height="1.5" fill="#ff0000"/>
<rect x="243.1" y="71.4" width="1.5" height="1.5" fill="#ff0000"/>
<rect x="249.8" y="89.4" width="1.5" height="1.5" fill="#ff0000"/>
<rect x="246.9" y="77.2" width="1.5" height="1.5" fill="#ff0000"/>
<rect x="251.1" y="84.3" width="1.5" height="1.5" fill="#ff0000"/>
<rect x="244.0" y="76.7" width="1.5" height="1.5" fill="#ff0000"/>
<rect x="247.8" y="84.3" width="1.5" height="1.5" fill="#ff0000"/>
<rect x="235.5" y="53.3" width="1.5" height="1.5" fill="#ff0000"/>
<rect x="240.4" y="65.6" width="1.5" height="1.5" fill="#ff0000"/>
<rect x="240.6" y="68.9" width="1.5" height="1.5" fill="#ff0000"/>
<rect x="233.8" y="51.6" width="1.5" height="1.5" fill="#ff0000"/>
<rect x="245.6" y="76.8" width="1.5" height="1.5" fill="#ff0000"/>
<rect x="232.8" y="51.7" width="1.5" height="1.5" fill="#ff0000"/>
<rect x="251.5" y="88.6" width="1.5" height="1.5" fill="#ff0000"/>
<rect x="236.4" y="57.3" width="1.5" height="1.5" fill="#ff0000"/>
<rect x="246.4" y="80.0" width="1.5" height="1.5" fill="#ff0000"/>
<rect x="236.2" y="57.3" width="1.5" height="1.5" fill="#ff0000"/>
<rect x="247.3" y="82.7" width="1.5" height="1.5" fill="#ff0000"/>
<rect x="248.3" y="84.6" width="1.5" height="1.5" fill="#ff0000"/>
<rect x="251.3" y="87.3" width="1.5" height="1.5" fill="#ff0000"/>
<rect x="244.6" y="72.6" width="1.5" height="1.5" fill="#ff0000"/>
<rect x="239.0" y="59.0" width="1.5" height="1.5" fill="#ff0000"/>
<rect x="247.8" y="84.4" width="1.5" height="1.5" fill="#ff0000"/>
<rect x="242.6" y="73.2" width="1.5" height="1.5" fill="#ff0000"/>
<rect x="245.7" y="77.7" width="1.5" height="1.5" fill="#ff0000"/>
<rect x="241.1" y="70.2" width="1.5" height="1.5" fill="#ff0000"/>
<rect x="246.4" y="79.9" width="1.5" height="1.5" fill="#ff0000"/>
<rect x="235.5" y="56.1" width="1.5" height="1.5" fill="#ff0000"/>
<rect x="248.9" y="86.7" width="1.5" height="1.5" fill="#ff0000"/>
<rect x="252.5" y="93.0" width="1.5" height="1.5" fill="#ff0000"/>
<rect x="235.7" y="55.4" width="1.5" height="1.5" fill="#ff0000"/>
<rect x="250.0" y="83.9" width="1.5" height="1.5" fill="#ff0000"/>
<rect x="234.2" y="53.3" width="1.5" height="1.5" fill="#ff0000"/>
<rect x="233.7" y="53.1" width="1.5" height="1.5" fill="#ff0000"/>
<rect x="250.4" y="90.0" width="1.5" height="1.5" fill="#ff0000"/>
<rect x="238.8" y="61.6" width="1.5" height="1.5" fill="#ff0000"/>
<rect x="252.6" y="89.5" width="1.5" height="1.5" fill="#ff0000"/>
<rect x="235.7" y="57.8" width="1.5" height="1.5" fill="#ff0000"/>
<rect x="236.2" y="55.2" width="1.5" height="1.5" fill="#ff0000"/>
<rect x="239.4" y="62.7" width="1.5" height="1.5" fill="#ff0000"/>
<rect x="241.9" y="68.6" width="1.5" height="1.5" fill="#ff0000"/>
<rect x="247.0" y="79.3" width="1.5" height="1.5" fill="#ff0000"/>
<rect x="243.7" y="68.7" width="1.5" height="1.5" fill="#ff0000"/>
<rect x="246.5" y="77.5" width="1.5" height="1.5" fill="#ff0000"/>
<rect x="246.9" y="80.7" width="1.5" height="1.5" fill="#ff0000"/>
<rect x="244.7" y="68.9" width="1.5" height="1.5" fill="#ff0000"/>
<rect x="248.9" y="84.6" width="1.5" height="1.5" fill="#ff0000"/>
<rect x="237.5" y="62.1" width="1.5" height="1.5" fill="#ff0000"/>
<rect x="238.0" y="62.5" width="1.5" height="1.5" fill="#ff0000"/>
<rect x="245.9" y="78.4" width="1.5" height="1.5" fill="#ff0000"/>
<rect x="246.2" y="82.1" width="1.5" height="1.5" fill="#ff0000"/>
<rect x="243.7" y="72.9" width="1.5" height="1.5" fill="#ff0000"/>
<rect x="249.6" y="85.2" width="1.5" height="1.5" fill="#ff0000"/>
<rect x="234.0" y="52.0" width="1.5" height="1.5" fill="#ff0000"/>
<rect x="234.8" y="57.3" width="1.5" height="1.5" fill="#ff0000"/>
<rect x="245.0" y="75.0" width="1.5" height="1.5" fill="#ff0000"/>
<rect x="236.5" y="56.1" width="1.5" height="1.5" fill="#ff0000"/>
<rect x="235.0" y="51.6" width="1.5" height="1.5" fill="#ff0000"/>
<rect x="242.0" y="70.4" width="1.5" height="1.5" fill="#ff0000"/>
<rect x="248.5" y="85.1" width="1.5" height="1.5" fill="#ff0000"/>
<rect x="241.9" y="66.9" width="1.5" height="1.5" fill="#ff0000"/>
<rect x="248.1" y="79.4" width="1.5" height="1.5" fill="#ff0000"/>
<rect x="245.6" y="77.7" width="1.5" height="1.5" fill="#ff0000"/>
<rect x="238.4" y="64.1" width="1.5" height="1.5" fill="#ff0000"/>
<rect x="234.1" y="53.9" width="1.5" height="1.5" fill="#ff0000"/>
<rect x="248.9" y="82.6" width="1.5" height="1.5" fill="#ff0000"/>
<rect x="236.0" y="54.4" width="1.5" height="1.5" fill="#ff0000"/>
<rect x="242.9" y="73.4" width="1.5" height="1.5" fill="#ff0000"/>
<rect x="234.9" y="53.3" width="1.5" height="1.5" fill="#ff0000"/>
<rect x="242.6" y="70.3" width="1.5" height="1.5" fill="#ff0000"/>
<rect x="237.7" y="57.2" width="1.5" height="1.5" fill="#ff0000"/>
<rect x="237.1" y="57.7" width="1.5" height="1.5" fill="#ff0000"/>
<rect x="243.9" y="73.6" width="1.5" height="1.5" fill="#ff0000"/>
<rect x="250.9" y="90.0" width="1.4" height="1.4" fill="#d40000"/>
<rect x="235.7" y="54.2" width="1.4" height="1.4" fill="#d40000"/>
<rect x="250.0" y="88.1" width="1.4" height="1.4" fill="#d40000"/>
<rect x="243.7" y="74.7" width="1.4" height="1.4" fill="#d40000"/>
<rect x="253.1" y="91.5" width="1.4" height="1.4" fill="#d40000"/>
<rect x="235.5" y="53.7" width="1.4" height="1.4" fill="#d40000"/>
<rect x="250.9" y="88.8" width="1.4" height="1.4" fill="#d40000"/>
<rect x="249.8" y="85.9" width="1.4" height="1.4" fill="#d40000"/>
<rect x="234.8" y="52.2" width="1.4" height="1.4" fill="#d40000"/>
<rect x="253.6" y="91.7" width="1.4" height="1.4" fill="#d40000"/>
<rect x="238.1" y="61.5" width="1.4" height="1.4" fill="#d40000"/>
<rect x="239.1" y="65.0" width="1.4" height="1.4" fill="#d40000"/>
<rect x="233.4" y="50.2" width="1.4" height="1.4" fill="#d40000"/>
<rect x="234.8" y="55.6" width="1.4" height="1.4" fill="#d40000"/>
<rect x="235.5" y="56.4" width="1.4" height="1.4" fill="#d40000"/>
<rect x="243.4" y="74.5" width="1.4" height="1.4" fill="#d40000"/>
<rect x="233.3" y="50.2" width="1.4" height="1.4" fill="#d40000"/>
<rect x="251.3" y="90.4" width="1.4" height="1.4" fill="#d40000"/>
<rect x="240.1" y="66.2" width="1.4" height="1.4" fill="#d40000"/>
<rect x="247.8" y="81.4" width="1.4" height="1.4" fill="#d40000"/>
<rect x="253.5" y="91.4" width="1.4" height="1.4" fill="#d40000"/>
<rect x="240.0" y="67.0" width="1.4" height="1.4" fill="#d40000"/>
<rect x="250.1" y="88.3" width="1.4" height="1.4" fill="#d40000"/>
<rect x="242.1" y="67.4" width="1.4" height="1.4" fill="#d40000"/>
<rect x="233.6" y="49.9" width="1.4" height="1.4" fill="#d40000"/>
<rect x="246.2" y="80.4" width="1.4" height="1.4" fill="#d40000"/>
<rect x="238.4" y="62.2" width="1.4" height="1.4" fill="#d40000"/>
<rect x="234.4" y="54.5" width="1.4" height="1.4" fill="#d40000"/>
<rect x="241.8" y="66.5" width="1.4" height="1.4" fill="#d40000"/>
<rect x="243.3" y="72.4" width="1.4" height="1.4" fill="#d40000"/>
<rect x="240.6" y="66.4" width="1.4" height="1.4" fill="#d40000"/>
<rect x="252.3" y="88.5" width="1.4" height="1.4" fill="#d40000"/>
<rect x="248.9" y="87.3" width="1.4" height="1.4" fill="#d40000"/>
<rect x="237.0" y="57.8" width="1.4" height="1.4" fill="#d40000"/>
<rect x="252.2" y="88.9" width="1.4" height="1.4" fill="#d40000"/>
<rect x="233.4" y="53.9" width="1.4" height="1.4" fill="#d40000"/>
<rect x="232.8" y="49.3" width="1.4" height="1.4" fill="#d40000"/>
<rect x="240.6" y="63.6" width="1.4" height="1.4" fill="#d40000"/>
<rect x="248.4" y="84.9" width="1.4" height="1.4" fill="#d40000"/>
<rect x="244.5" y="74.6" width="1.4" height="1.4" fill="#d40000"/>
<rect x="250.6" y="88.8" width="1.4" height="1.4" fill="#d40000"/>
<rect x="252.5" y="89.6" width="1.4" height="1.4" fill="#d40000"/>
<rect x="236.2" y="59.2" width="1.4" height="1.4" fill="#d40000"/>
<rect x="251.4" y="89.1" width="1.4" height="1.4" fill="#d40000"/>
<rect x="239.2" y="64.5" width="1.4" height="1.4" fill="#d40000"/>
<rect x="237.0" y="57.8" width="1.6" height="1.6" fill="#ff0000"/>
<rect x="236.3" y="57.1" width="1.6" height="1.6" fill="#ff0000"/>
<rect x="235.1" y="52.5" width="1.6" height="1.6" fill="#ff0000"/>
<rect x="236.3" y="53.3" width="1.6" height="1.6" fill="#ff0000"/>
<rect x="236.9" y="57.3" width="1.6" height="1.6" fill="#ff0000"/>
<rect x="236.1" y="58.3" width="1.6" height="1.6" fill="#ff0000"/>
<rect x="233.8" y="54.0" width="1.6" height="1.6" fill="#ff0000"/>
<rect x="234.6" y="53.4" width="1.6" height="1.6" fill="#ff0000"/>
<rect x="235.9" y="55.9" width="1.6" height="1.6" fill="#ff0000"/>
<rect x="236.7" y="55.9" width="1.6" height="1.6" fill="#ff0000"/>
<rect x="221.3" y="67.7" width="1.6" height="1.6" fill="#ff0000"/>
<rect x="217.9" y="82.6" width="1.6" height="1.6" fill="#ff0000"/>
<rect x="223.6" y="60.9" width="1.6" height="1.6" fill="#ff0000"/>
<rect x="219.1" y="76.5" width="1.6" height="1.6" fill="#ff0000"/>
<rect x="218.5" y="79.7" width="1.6" height="1.6" fill="#ff0000"/>
<rect x="218.5" y="86.6" width="1.6" height="1.6" fill="#ff0000"/>
<rect x="217.7" y="85.2" width="1.6" height="1.6" fill="#ff0000"/>
<rect x="219.9" y="78.8" width="1.6" height="1.6" fill="#ff0000"/>
<rect x="216.6" y="92.4" width="1.6" height="1.6" fill="#ff0000"/>
<rect x="216.2" y="85.6" width="1.6" height="1.6" fill="#ff0000"/>
<rect x="220.1" y="76.5" width="1.6" height="1.6" fill="#ff0000"/>
<rect x="217.5" y="81.6" width="1.6" height="1.6" fill="#ff0000"/>
<rect x="216.9" y="85.5" width="1.6" height="1.6" fill="#ff0000"/>
<rect x="217.7" y="86.9" width="1.6" height="1.6" fill="#ff0000"/>
<rect x="216.6" y="92.2" width="1.6" height="1.6" fill="#ff0000"/>
<rect x="221.9" y="63.3" width="1.6" height="1.6" fill="#ff0000"/>
<rect x="220.4" y="72.1" width="1.6" height="1.6" fill="#ff0000"/>
<rect x="218.0" y="86.8" width="1.6" height="1.6" fill="#ff0000"/>
<rect x="221.1" y="65.2" width="1.6" height="1.6" fill="#ff0000"/>
<rect x="222.0" y="58.3" width="1.6" height="1.6" fill="#ff0000"/>
<rect x="219.3" y="77.8" width="1.6" height="1.6" fill="#ff0000"/>
<rect x="223.3" y="63.3" width="1.6" height="1.6" fill="#ff0000"/>
<rect x="219.7" y="73.5" width="1.6" height="1.6" fill="#ff0000"/>
<rect x="219.5" y="86.9" width="1.6" height="1.6" fill="#ff0000"/>
<rect x="217.6" y="77.6" width="1.6" height="1.6" fill="#ff0000"/>
<rect x="222.2" y="66.8" width="1.6" height="1.6" fill="#ff0000"/>
<rect x="222.5" y="60.3" width="1.6" height="1.6" fill="#ff0000"/>
<rect x="219.3" y="77.5" width="1.6" height="1.6" fill="#ff0000"/>
<rect x="223.0" y="60.5" width="1.6" height="1.6" fill="#ff0000"/>
<rect x="222.3" y="67.9" width="1.6" height="1.6" fill="#ff0000"/>
<rect x="218.2" y="87.0" width="1.6" height="1.6" fill="#ff0000"/>
<rect x="220.1" y="72.8" width="1.6" height="1.6" fill="#ff0000"/>
<rect x="216.8" y="91.9" width="1.6" height="1.6" fill="#ff0000"/>
<rect x="218.1" y="84.7" width="1.6" height="1.6" fill="#ff0000"/>
<rect x="220.1" y="73.8" width="1.6" height="1.6" fill="#ff0000"/>
<rect x="222.1" y="66.1" width="1.6" height="1.6" fill="#ff0000"/>
<rect x="220.3" y="72.6" width="1.6" height="1.6" fill="#ff0000"/>
<rect x="225.4" y="61.0" width="1.6" height="1.6" fill="#ff0000"/>
<rect x="217.6" y="84.3" width="1.6" height="1.6" fill="#ff0000"/>
<rect x="221.1" y="66.6" width="1.6" height="1.6" fill="#ff0000"/>
<rect x="220.7" y="73.9" width="1.6" height="1.6" fill="#ff0000"/>
<rect x="222.1" y="69.7" width="1.6" height="1.6" fill="#ff0000"/>
<rect x="222.0" y="59.8" width="1.6" height="1.6" fill="#ff0000"/>
<rect x="222.2" y="60.8" width="1.6" height="1.6" fill="#ff0000"/>
<rect x="216.3" y="87.4" width="1.6" height="1.6" fill="#ff0000"/>
<rect x="218.8" y="75.2" width="1.6" height="1.6" fill="#ff0000"/>
<rect x="220.8" y="70.8" width="1.6" height="1.6" fill="#ff0000"/>
<rect x="221.4" y="71.1" width="1.6" height="1.6" fill="#ff0000"/>
<rect x="222.5" y="64.1" width="1.6" height="1.6" fill="#ff0000"/>
<rect x="219.7" y="75.2" width="1.6" height="1.6" fill="#ff0000"/>
<rect x="215.1" y="91.0" width="1.6" height="1.6" fill="#ff0000"/>
<rect x="221.8" y="65.3" width="1.6" height="1.6" fill="#ff0000"/>
<rect x="217.4" y="82.8" width="1.6" height="1.6" fill="#ff0000"/>
<rect x="223.4" y="58.9" width="1.6" height="1.6" fill="#ff0000"/>
<rect x="221.7" y="71.2" width="1.6" height="1.6" fill="#ff0000"/>
<rect x="221.3" y="67.7" width="1.6" height="1.6" fill="#ff0000"/>
<rect x="215.3" y="91.5" width="1.6" height="1.6" fill="#ff0000"/>
<rect x="217.7" y="83.3" width="1.6" height="1.6" fill="#ff0000"/>
<rect x="220.9" y="69.5" width="1.6" height="1.6" fill="#ff0000"/>
<rect x="216.7" y="90.1" width="1.6" height="1.6" fill="#ff0000"/>
<rect x="216.4" y="96.9" width="1.6" height="1.6" fill="#ff0000"/>
<rect x="215.9" y="97.6" width="1.6" height="1.6" fill="#ff0000"/>
<rect x="214.6" y="97.2" width="1.6" height="1.6" fill="#ff0000"/>
<rect x="216.6" y="96.8" width="1.6" height="1.6" fill="#ff0000"/>
<rect x="215.6" y="98.2" width="1.6" height="1.6" fill="#ff0000"/>
<rect x="216.5" y="97.2" width="1.6" height="1.6" fill="#ff0000"/>
<rect x="217.0" y="97.6" width="1.6" height="1.6" fill="#ff0000"/>
<rect x="217.1" y="99.1" width="1.6" height="1.6" fill="#ff0000"/>
<rect x="219.8" y="77.3" width="1.3" height="1.3" fill="#000000"/>
<rect x="217.9" y="85.8" width="1.3" height="1.3" fill="#000000"/>
<rect x="216.8" y="89.3" width="1.3" height="1.3" fill="#000000"/>
<path d="M396.00 164.70H405.60M400.80 159.30V170.10M396.00 159.30L405.60 170.10M396.00 170.10L405.60 159.30" stroke="#000" stroke-width="1.15" fill="none" stroke-opacity="1.0"/>
<path d="M415.00 169.80H424.60M419.80 164.40V175.20M415.00 164.40L424.60 175.20M415.00 175.20L424.60 164.40" stroke="#000" stroke-width="1.15" fill="none" stroke-opacity="1.0"/>
<path d="M433.40 180.30H443.00M438.20 174.90V185.70M433.40 174.90L443.00 185.70M433.40 185.70L443.00 174.90" stroke="#000" stroke-width="1.15" fill="none" stroke-opacity="1.0"/>
<path d="M454.50 188.20H464.10M459.30 182.80V193.60M454.50 182.80L464.10 193.60M454.50 193.60L464.10 182.80" stroke="#000" stroke-width="1.15" fill="none" stroke-opacity="1.0"/>
<path d="M476.60 197.20H486.20M481.40 191.80V202.60M476.60 191.80L486.20 202.60M476.60 202.60L486.20 191.80" stroke="#000" stroke-width="1.15" fill="none" stroke-opacity="1.0"/>
<path d="M498.10 208.20H507.70M502.90 202.80V213.60M498.10 202.80L507.70 213.60M498.10 213.60L507.70 202.80" stroke="#000" stroke-width="1.15" fill="none" stroke-opacity="1.0"/>
<path d="M527.40 224.60H537.00M532.20 219.20V230.00M527.40 219.20L537.00 230.00M527.40 230.00L537.00 219.20" stroke="#000" stroke-width="1.15" fill="none" stroke-opacity="1.0"/>
<path d="M396.10 163.50H405.50M400.80 158.20V168.80M396.10 158.20L405.50 168.80M396.10 168.80L405.50 158.20" stroke="#ff0000" stroke-width="1.0" fill="none" stroke-opacity="0.8"/>
<path d="M415.10 169.50H424.50M419.80 164.20V174.80M415.10 164.20L424.50 174.80M415.10 174.80L424.50 164.20" stroke="#ff0000" stroke-width="1.0" fill="none" stroke-opacity="0.35"/>
<path d="M433.50 179.80H442.90M438.20 174.50V185.10M433.50 174.50L442.90 185.10M433.50 185.10L442.90 174.50" stroke="#ff0000" stroke-width="1.0" fill="none" stroke-opacity="0.45"/>
<path d="M454.60 187.90H464.00M459.30 182.60V193.20M454.60 182.60L464.00 193.20M454.60 193.20L464.00 182.60" stroke="#ff0000" stroke-width="1.0" fill="none" stroke-opacity="0.8"/>
<path d="M476.70 196.90H486.10M481.40 191.60V202.20M476.70 191.60L486.10 202.20M476.70 202.20L486.10 191.60" stroke="#ff0000" stroke-width="1.0" fill="none" stroke-opacity="0.8"/>
<path d="M498.20 207.90H507.60M502.90 202.60V213.20M498.20 202.60L507.60 213.20M498.20 213.20L507.60 202.60" stroke="#ff0000" stroke-width="1.0" fill="none" stroke-opacity="0.8"/>
<path d="M527.50 224.30H536.90M532.20 219.00V229.60M527.50 219.00L536.90 229.60M527.50 229.60L536.90 219.00" stroke="#ff0000" stroke-width="1.0" fill="none" stroke-opacity="0.8"/>
<path d="M400.6 161.0 L532.0 222.6" stroke="#5a5ae0" stroke-width="0.9" fill="none"/>
<ellipse cx="400.80" cy="163.50" rx="2.7" ry="1.9" fill="#ff2218"/>
<ellipse cx="419.80" cy="169.50" rx="2.7" ry="1.9" fill="#ff2218"/>
<ellipse cx="438.20" cy="179.80" rx="2.7" ry="1.9" fill="#ff2218"/>
<ellipse cx="459.30" cy="187.90" rx="2.7" ry="1.9" fill="#ff2218"/>
<ellipse cx="481.40" cy="196.90" rx="2.7" ry="1.9" fill="#ff2218"/>
<ellipse cx="502.90" cy="207.90" rx="2.7" ry="1.9" fill="#ff2218"/>
<ellipse cx="532.20" cy="224.30" rx="2.7" ry="1.9" fill="#ff2218"/>
</svg></body></html>
